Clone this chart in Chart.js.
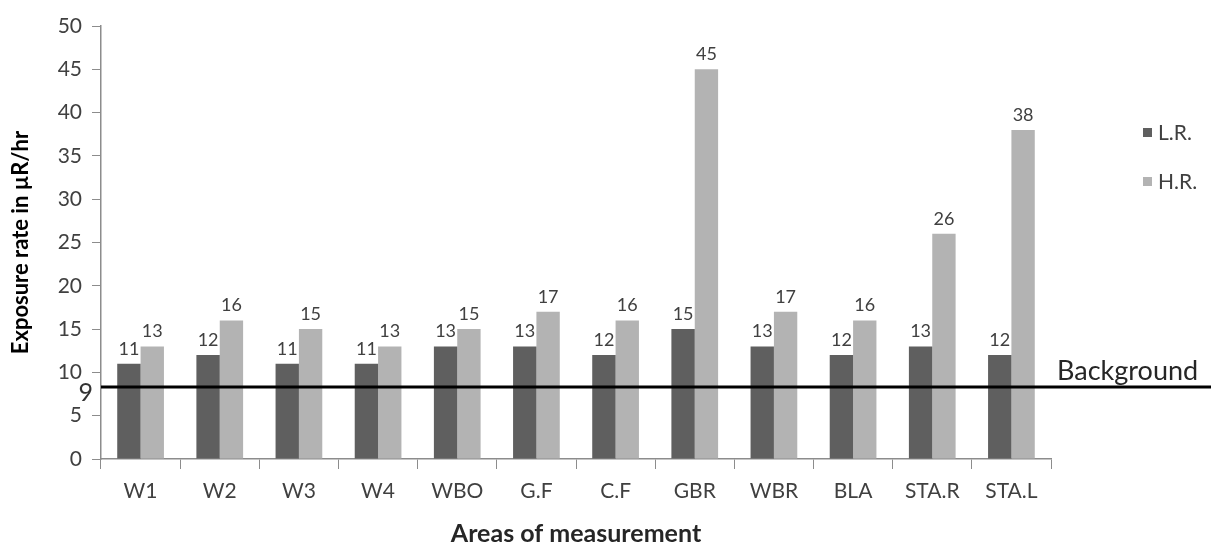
<!DOCTYPE html>
<html>
<head>
<meta charset="utf-8">
<script src="https://cdn.jsdelivr.net/npm/chart.js@4"></script>
<style>
  html, body { margin: 0; padding: 0; background: #fff; }
  #wrap { width: 1211px; height: 549px; position: relative; }
</style>
</head>
<body>
<div id="wrap"><canvas id="chart"></canvas></div>
<script>
// Data
const areas = ['W1', 'W2', 'W3', 'W4', 'WBO', 'G.F', 'C.F', 'GBR', 'WBR', 'BLA', 'STA.R', 'STA.L'];
const lowRange = [11, 12, 11, 11, 13, 13, 12, 15, 13, 12, 13, 12];
const highRange = [13, 16, 15, 13, 15, 17, 16, 45, 17, 16, 26, 38];
const seriesNames = ['L.R.', 'H.R.'];
const backgroundLevel = 8.3;
const backgroundLabel = '9';

const colors = { low: '#5f5f5f', high: '#b3b3b3', text: '#404040', axis: '#8c8c8c' };
const fontFamily = "Lato, 'Noto Sans', sans-serif";

// value labels above the bars
const valueLabels = {
  id: 'valueLabels',
  afterDatasetsDraw(chart) {
    const ctx = chart.ctx;
    ctx.save();
    ctx.font = '18px ' + fontFamily;
    ctx.fillStyle = colors.text;
    ctx.textAlign = 'center';
    ctx.textBaseline = 'bottom';
    chart.data.datasets.forEach((ds, i) => {
      chart.getDatasetMeta(i).data.forEach((bar, j) => {
        ctx.fillText(ds.data[j], bar.x, bar.y - 6);
      });
    });
    ctx.restore();
  }
};

// background line, its labels, and the legend on the right
const extras = {
  id: 'extras',
  afterDraw(chart) {
    const ctx = chart.ctx;
    const y = chart.scales.y.getPixelForValue(backgroundLevel);
    const left = chart.chartArea.left;
    ctx.save();
    ctx.strokeStyle = '#000';
    ctx.lineWidth = 3;
    ctx.beginPath();
    ctx.moveTo(left, y);
    ctx.lineTo(chart.width, y);
    ctx.stroke();

    ctx.fillStyle = '#333';
    ctx.font = '25px ' + fontFamily;
    ctx.textAlign = 'right';
    ctx.textBaseline = 'middle';
    ctx.fillText(backgroundLabel, left - 8, y + 6);

    ctx.fillStyle = '#262626';
    ctx.font = '27px ' + fontFamily;
    ctx.textAlign = 'left';
    ctx.fillText('Background', 1057, y - 16);

    // legend
    const legendColors = [colors.low, colors.high];
    ctx.font = '21px ' + fontFamily;
    seriesNames.forEach((name, i) => {
      const ly = 133 + i * 49;
      ctx.fillStyle = legendColors[i];
      ctx.fillRect(1143, ly - 5, 9, 9);
      ctx.fillStyle = colors.text;
      ctx.fillText(name, 1158, ly);
    });
    ctx.restore();
  }
};

new Chart(document.getElementById('chart'), {
  type: 'bar',
  data: {
    labels: areas,
    datasets: [
      { label: seriesNames[0], data: lowRange, backgroundColor: colors.low },
      { label: seriesNames[1], data: highRange, backgroundColor: colors.high }
    ]
  },
  options: {
    responsive: true,
    maintainAspectRatio: false,
    animation: false,
    layout: { padding: { top: 26, right: 160, bottom: 0, left: 0 } },
    datasets: { bar: { categoryPercentage: 0.59, barPercentage: 1.0 } },
    plugins: {
      legend: { display: false },
      tooltip: { enabled: false }
    },
    scales: {
      x: {
        afterFit: s => { s.height = 90; },
        grid: { drawOnChartArea: false, color: colors.axis, tickLength: 10, offset: true },
        border: { color: colors.axis, width: 1.5 },
        ticks: { color: colors.text, font: { family: fontFamily, size: 21 }, padding: 10 },
        title: {
          display: true,
          text: 'Areas of measurement',
          color: '#262626',
          font: { family: fontFamily, size: 25, weight: 'bold' },
          padding: { top: 4, bottom: 0 }
        }
      },
      y: {
        min: 0,
        max: 50,
        afterFit: s => { s.width = 101; },
        grid: { drawOnChartArea: false, color: colors.axis, tickLength: 9 },
        border: { color: colors.axis, width: 1.5 },
        ticks: { stepSize: 5, color: colors.text, font: { family: fontFamily, size: 21 }, padding: 10 },
        title: {
          display: true,
          text: 'Exposure rate in µR/hr',
          color: '#000',
          font: { family: fontFamily, size: 22, weight: 'bold' },
          padding: { top: 8, bottom: 4 }
        }
      }
    }
  },
  plugins: [valueLabels, extras]
});
</script>
</body>
</html>
